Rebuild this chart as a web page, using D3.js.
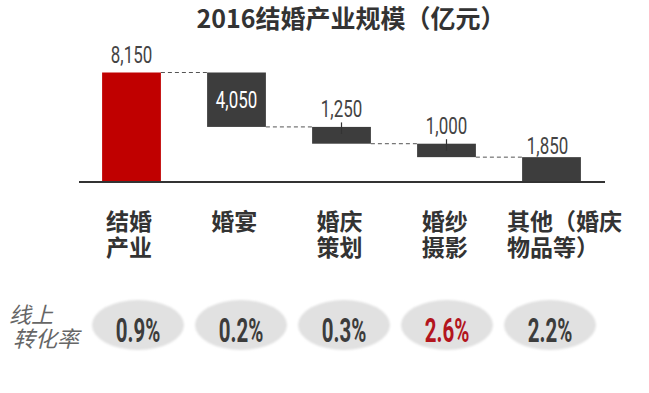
<!DOCTYPE html>
<html>
<head>
<meta charset="utf-8">
<script src="https://cdn.jsdelivr.net/npm/d3@7"></script>
<style>
  html, body { margin: 0; padding: 0; background: #fff; }
  svg { display: block; }
</style>
</head>
<body>
<div id="chart"></div>
<script>
// data
var title = '2016结婚产业规模（亿元）';
var categories = ['结婚产业', '婚宴', '婚庆策划', '婚纱摄影', '其他（婚庆物品等）'];
var categoryLines = [['结婚', '产业'], ['婚宴'], ['婚庆', '策划'], ['婚纱', '摄影'], ['其他（婚庆', '物品等）']];
var total = 8150;
var parts = [4050, 1250, 1000, 1850];
var rateTitle = ['线上', '转化率'];
var rates = [0.9, 0.2, 0.3, 2.6, 2.2];
var highlightRate = 2.6;

var W = 649, H = 393;
var cjk = '"Noto Sans CJK SC", "Noto Sans", sans-serif';
var numFont = 'Roboto, "Liberation Sans", sans-serif';

var svg = d3.select('#chart').append('svg')
  .attr('width', W)
  .attr('height', H);

var defs = svg.append('defs');
defs.append('filter').attr('id', 'soft')
  .append('feGaussianBlur').attr('stdDeviation', 1.2);

// waterfall steps: first is the total, then each part hangs below the previous
var steps = [];
var level = total;
steps.push({cat: categories[0], value: total, top: total, bottom: 0, total: true});
parts.forEach(function(v, i) {
  steps.push({cat: categories[i + 1], value: v, top: level, bottom: level - v, total: false});
  level -= v;
});

var x = d3.scaleBand()
  .domain(categories)
  .range([79, 604])
  .paddingInner(0.44)
  .paddingOuter(0.22);

var y = d3.scaleLinear()
  .domain([0, total])
  .range([182, 72.5]);

var fmt = d3.format(',');

// title
svg.append('text')
  .attr('x', 351)
  .attr('y', 28)
  .attr('text-anchor', 'middle')
  .style('font-family', cjk)
  .style('font-weight', 'bold')
  .style('font-size', '25px')
  .style('fill', '#333')
  .text(title);

// dashed connectors between consecutive bars
var links = steps.slice(0, -1).map(function(d, i) {
  var next = steps[i + 1];
  return {x1: x(d.cat) + x.bandwidth(), x2: x(next.cat), level: d.total ? d.top : d.bottom};
});

svg.append('g').selectAll('line')
  .data(links)
  .enter().append('line')
    .attr('x1', function(d) { return d.x1; })
    .attr('x2', function(d) { return d.x2; })
    .attr('y1', function(d) { return y(d.level); })
    .attr('y2', function(d) { return y(d.level); })
    .style('stroke', '#555')
    .style('stroke-width', 1)
    .style('stroke-dasharray', '4,3');

// bars
svg.append('g').selectAll('rect')
  .data(steps)
  .enter().append('rect')
    .attr('x', function(d) { return x(d.cat); })
    .attr('width', x.bandwidth())
    .attr('y', function(d) { return y(d.top); })
    .attr('height', function(d) { return y(d.bottom) - y(d.top); })
    .style('fill', function(d) { return d.total ? '#c00000' : '#3d3d3d'; });

// axis baseline
svg.append('line')
  .attr('x1', 79).attr('x2', 605)
  .attr('y1', y(0)).attr('y2', y(0))
  .style('stroke', '#333')
  .style('stroke-width', 2);

// value labels: the tall part goes inside its bar, others sit above
var labelG = svg.append('g');
steps.forEach(function(d, i) {
  var cx = x(d.cat) + x.bandwidth() / 2;
  var barH = y(d.bottom) - y(d.top);
  var inside = !d.total && barH > 40;
  var last = i === steps.length - 1;
  var by, lx = cx;

  if (inside) {
    by = y(d.top) + barH / 2 + 8.5;
  } else if (last) {
    by = y(d.top) - 3;
    lx = cx - 4;
  } else {
    by = y(d.top) - 9.5;
  }

  labelG.append('text')
    .attr('transform', 'translate(' + lx + ',' + by + ') scale(0.72,1.05)')
    .attr('text-anchor', 'middle')
    .style('font-family', numFont)
    .style('font-size', '23.5px')
    .style('fill', inside ? '#fff' : '#444')
    .text(fmt(d.value));

  // small leader ticks for the hanging middle bars
  if (!inside && !d.total && !last) {
    labelG.append('line')
      .attr('x1', cx).attr('x2', cx)
      .attr('y1', by + 5).attr('y2', y(d.top) + 7)
      .style('stroke', '#333')
      .style('stroke-width', 1.2);
  }
});

// category labels under the axis
var catX = d3.scalePoint().domain(categories).range([106, 527]);
var catG = svg.append('g');
categoryLines.forEach(function(lines, i) {
  var t = catG.append('text')
    .attr('y', 230)
    .style('font-family', cjk)
    .style('font-weight', 'bold')
    .style('font-size', '23px')
    .style('fill', '#333');
  lines.forEach(function(s, j) {
    t.append('tspan')
      .attr('x', catX(categories[i]))
      .attr('dy', j === 0 ? 0 : 26)
      .text(s);
  });
  // keep the long label inside the chart's right edge
  var w = t.node().getBBox().width;
  var left = Math.min(catX(categories[i]), 622 - w);
  t.selectAll('tspan').attr('x', left);
});

// online conversion rate row
var rateX = d3.scalePoint().domain(categories).range([138, 550]);
var rowY = 325;

var rt = svg.append('text')
  .attr('y', 323)
  .style('font-family', cjk)
  .style('font-size', '22px')
  .style('font-style', 'italic')
  .style('fill', '#666');
rateTitle.forEach(function(s, j) {
  rt.append('tspan')
    .attr('x', j === 0 ? 9 : 13)
    .attr('dy', j === 0 ? 0 : 24)
    .text(s);
});

var rateG = svg.append('g').selectAll('g')
  .data(rates)
  .enter().append('g')
    .attr('transform', function(d, i) { return 'translate(' + rateX(categories[i]) + ',' + rowY + ')'; });

rateG.append('ellipse')
  .attr('rx', 46)
  .attr('ry', 25)
  .attr('filter', 'url(#soft)')
  .style('fill', '#e1e1e1');

rateG.append('text')
  .attr('transform', 'translate(0,17) scale(0.66,1.05)')
  .attr('text-anchor', 'middle')
  .style('font-family', numFont)
  .style('font-weight', 'bold')
  .style('font-size', '31px')
  .style('fill', function(d) { return d === highlightRate ? '#b3151d' : '#3c3c3c'; })
  .text(function(d) { return d.toFixed(1) + '%'; });
</script>
</body>
</html>
